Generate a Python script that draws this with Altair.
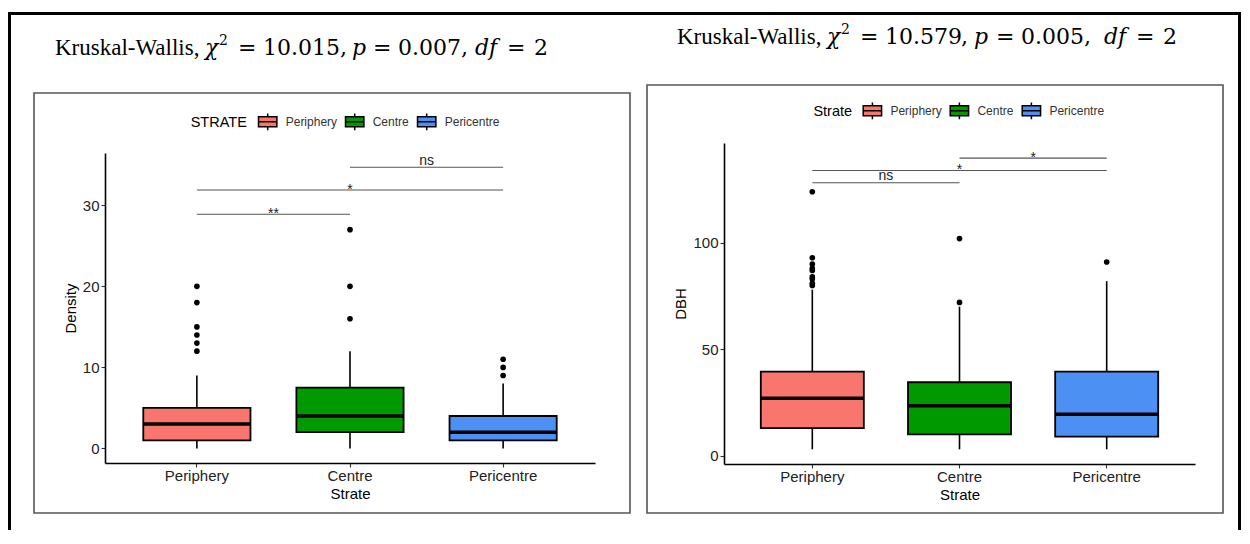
import altair as alt
import pandas as pd

# ---------------- data ----------------
strata = ["Periphery", "Centre", "Pericentre"]
strata_colors = ["#F8766D", "#009A00", "#4B90F2"]

# Density panel: box statistics
density_low = [0, 0, 0]
density_q1 = [1, 2, 1]
density_median = [3, 4, 2]
density_q3 = [5, 7.5, 4]
density_high = [9, 12, 8]
density_out_periphery = [12, 13, 14, 15, 18, 20]
density_out_centre = [16, 20, 27]
density_out_pericentre = [9, 10, 11]
density_pair_from = ["Periphery", "Periphery", "Centre"]
density_pair_to = ["Centre", "Pericentre", "Pericentre"]
density_pair_y = [28.9, 31.9, 34.7]
density_pair_label = ["**", "*", "ns"]

# DBH panel: box statistics
dbh_low = [3, 3, 3]
dbh_q1 = [13, 10, 9]
dbh_median = [27, 23.5, 19.5]
dbh_q3 = [39.5, 34.5, 39.5]
dbh_high = [78, 70, 82]
dbh_out_periphery = [80, 81, 83, 84, 87, 88, 90, 93, 124]
dbh_out_centre = [72, 102]
dbh_out_pericentre = [91]
dbh_pair_from = ["Periphery", "Periphery", "Centre"]
dbh_pair_to = ["Centre", "Pericentre", "Pericentre"]
dbh_pair_y = [128.2, 134.0, 139.8]
dbh_pair_label = ["ns", "*", "*"]

# titles (pieces: text roman / math roman / math italic / superscript)
left_title_text = ["Kruskal-Wallis,", "χ", "2", "=", "10.015,", "p", "=", "0.007,", "df", "=", "2"]
left_title_style = ["t", "i", "s", "m", "m", "i", "m", "m", "i", "m", "m"]
right_title_text = ["Kruskal-Wallis,", "χ", "2", "=", "10.579", ",", "p", "=", "0.005,", "df", "=", "2"]
right_title_style = ["t", "i", "s", "m", "m", "m", "i", "m", "m", "i", "m", "m"]

# ---------------- layout (pixels) ----------------
left_title_x = [55, 205, 219, 238, 263, 352, 373, 398, 475, 507, 534]
right_title_x = [677, 827, 841, 860, 885, 961, 974, 996, 1021, 1104, 1136, 1163]

SANS = "Liberation Sans"
SERIF = "Liberation Serif"
MATH = "DejaVu Serif"
KEY = "M-1,-0.54H1V0.54H-1Z M-1,0H1 M0,-0.54V-0.91 M0,0.54V0.91"
one_row = pd.DataFrame({"k": [0]})


def stats_df(low, q1, med, q3, high):
    return pd.DataFrame({"cat": strata, "low": low, "q1": q1, "median": med, "q3": q3, "high": high})


def out_df(a, b, c):
    rows = [(strata[0], v) for v in a] + [(strata[1], v) for v in b] + [(strata[2], v) for v in c]
    return pd.DataFrame(rows, columns=["cat", "value"])


def pair_df(f, t, y, lab):
    return pd.DataFrame({"from": f, "to": t, "y": y, "label": lab})


def panel(stats, outs, pairs, *, ytitle, legend_title, width, height, ydomain, yrange,
          yticks, box_px, legend_xy, frame, title_text, title_style, title_x,
          title_base, origin, extra=()):
    ox, oy = origin
    xscale = alt.Scale(type="band", domain=strata, paddingInner=0, paddingOuter=0.1)
    xaxis = alt.Axis(title="Strate", labelAngle=0, grid=False, labelFont=SANS, labelFontSize=15,
                     labelColor="#222", labelPadding=1, tickSize=4, tickColor="#333",
                     tickWidth=1.1, domainColor="black", domainWidth=1.6,
                     titleFont=SANS, titleFontSize=15, titleFontWeight="normal",
                     titleColor="black", titlePadding=3)
    yscale = alt.Scale(domain=ydomain, range=yrange, nice=False, zero=False)
    yaxis = alt.Axis(title=ytitle, values=yticks, grid=False, labelFont=SANS, labelFontSize=15,
                     labelColor="#222", labelPadding=2, tickSize=4, tickColor="#333",
                     tickWidth=1.1, domainColor="black", domainWidth=1.6,
                     titleFont=SANS, titleFontSize=15, titleFontWeight="normal",
                     titleColor="black", titlePadding=4)

    def X(f, bp=True):
        if bp:
            return alt.X(f"{f}:N", scale=xscale, axis=xaxis, bandPosition=0.5)
        return alt.X(f"{f}:N", scale=xscale, axis=xaxis)

    def Y(f):
        return alt.Y(f"{f}:Q", scale=yscale, axis=yaxis)

    base = alt.Chart(stats)
    frame_layer = alt.Chart(one_row).mark_rect(filled=False, stroke="#555", strokeWidth=1.6).encode(
        x=alt.value(frame[0] - ox), x2=alt.value(frame[2] - ox),
        y=alt.value(frame[1] - oy), y2=alt.value(frame[3] - oy))
    whisk = base.mark_rule(color="black", strokeWidth=1.6, opacity=1).encode(
        x=X("cat"), y=Y("low"), y2="high")
    box = base.mark_bar(width=alt.RelativeBandSize(0.7), stroke="black", strokeWidth=1.8,
                        opacity=1).encode(
        x=X("cat", False), y=Y("q1"), y2="q3",
        fill=alt.Fill("cat:N", scale=alt.Scale(domain=strata, range=strata_colors),
                      legend=alt.Legend(title=legend_title, orient="none",
                                        legendX=legend_xy[0] - ox, legendY=legend_xy[1] - oy,
                                        direction="horizontal", titleOrient="left",
                                        titleAnchor="middle", titleBaseline="middle",
                                        titleFont=SANS, titleFontSize=14.5,
                                        titleFontWeight="normal", titleColor="black",
                                        titlePadding=10, labelFont=SANS, labelFontSize=12,
                                        labelColor="#333", labelOffset=8, columnPadding=4,
                                        symbolType=KEY, symbolSize=338,
                                        symbolStrokeColor="black", symbolStrokeWidth=1.5,
                                        symbolOpacity=1, padding=0)))
    med = base.mark_tick(color="black", thickness=3.5, size=box_px, opacity=1).encode(
        x=X("cat"), y=Y("median"))
    pts = alt.Chart(outs).mark_circle(color="black", size=32, opacity=1).encode(x=X("cat"), y=Y("value"))
    brk = alt.Chart(pairs).mark_rule(color="#555", strokeWidth=1.1).encode(
        x=X("from"), x2=alt.X2("to:N", bandPosition=0.5), y=Y("y"))

    labels = []
    for i, row in pairs.iterrows():
        a, b = strata.index(row["from"]), strata.index(row["to"])
        if b - a == 1:
            mid, bp = row["from"], 1.0
        else:
            mid, bp = strata[(a + b) // 2], 0.5
        star = row["label"].startswith("*")
        d = pd.DataFrame({"cat": [mid], "y": [row["y"]], "label": [row["label"]]})
        labels.append(alt.Chart(d).mark_text(font=SANS, fontSize=14, color="#222",
                                             baseline="alphabetic", dy=4 if star else -2.5).encode(
            x=alt.X("cat:N", scale=xscale, axis=xaxis, bandPosition=bp), y=Y("y"), text="label:N"))

    titles = []
    for txt, st, tx in zip(title_text, title_style, title_x):
        if st == "t":
            font, size, raise_px, style = SERIF, 23, 0, "normal"
        elif st == "s":
            font, size, raise_px, style = MATH, 14, 10, "normal"
        elif st == "i":
            font, size, raise_px, style = MATH, 22, 0, "italic"
        else:
            font, size, raise_px, style = MATH, 22, 0, "normal"
        titles.append(alt.Chart(one_row).mark_text(
            font=font, fontSize=size, fontStyle=style,
            align="left", baseline="alphabetic", color="black").encode(
            x=alt.value(tx - ox), y=alt.value(title_base - raise_px - oy), text=alt.value(txt)))

    return alt.layer(frame_layer, *extra, whisk, box, med, pts, brk, *labels, *titles).properties(
        width=width, height=height)


# outer black frame (filled strips, drawn in the left panel's coordinates)
LO = (105, 143)


def strip(x0, x1, y0, y1):
    return alt.Chart(one_row).mark_rect(color="black", strokeWidth=0).encode(
        x=alt.value(x0 - LO[0]), x2=alt.value(x1 - LO[0]),
        y=alt.value(y0 - LO[1]), y2=alt.value(y1 - LO[1]))


outer = [strip(8, 11, 12, 530), strip(1238, 1241, 12, 530), strip(8, 1241, 12, 15)]

left = panel(stats_df(density_low, density_q1, density_median, density_q3, density_high),
             out_df(density_out_periphery, density_out_centre, density_out_pericentre),
             pair_df(density_pair_from, density_pair_to, density_pair_y, density_pair_label),
             ytitle="Density", legend_title="STRATE", width=490, height=320,
             ydomain=[-1.8, 36.46], yrange=[320, 10], yticks=[0, 10, 20, 30], box_px=107,
             legend_xy=(190.7, 111.5), frame=(34, 93, 630, 513),
             title_text=left_title_text, title_style=left_title_style, title_x=left_title_x,
             title_base=55, origin=LO, extra=outer)

RO = (724, 143)
right = panel(stats_df(dbh_low, dbh_q1, dbh_median, dbh_q3, dbh_high),
              out_df(dbh_out_periphery, dbh_out_centre, dbh_out_pericentre),
              pair_df(dbh_pair_from, dbh_pair_to, dbh_pair_y, dbh_pair_label),
              ytitle="DBH", legend_title="Strate", width=471, height=321,
              ydomain=[-3.9, 146.9], yrange=[321, 0], yticks=[0, 50, 100], box_px=103,
              legend_xy=(813.4, 100.5), frame=(647, 85, 1223, 513),
              title_text=right_title_text, title_style=right_title_style, title_x=right_title_x,
              title_base=44, origin=RO)

chart = alt.hconcat(left, right, spacing=129, bounds="flush").resolve_scale(
    x="independent", y="independent", fill="independent").resolve_legend(
    fill="independent").properties(
    padding={"left": 0, "top": 4, "right": 0, "bottom": 0}).configure(
    font=SANS, background="white").configure_view(strokeWidth=0)

chart.save("out.html", embed_options={"renderer": "svg", "actions": False})
